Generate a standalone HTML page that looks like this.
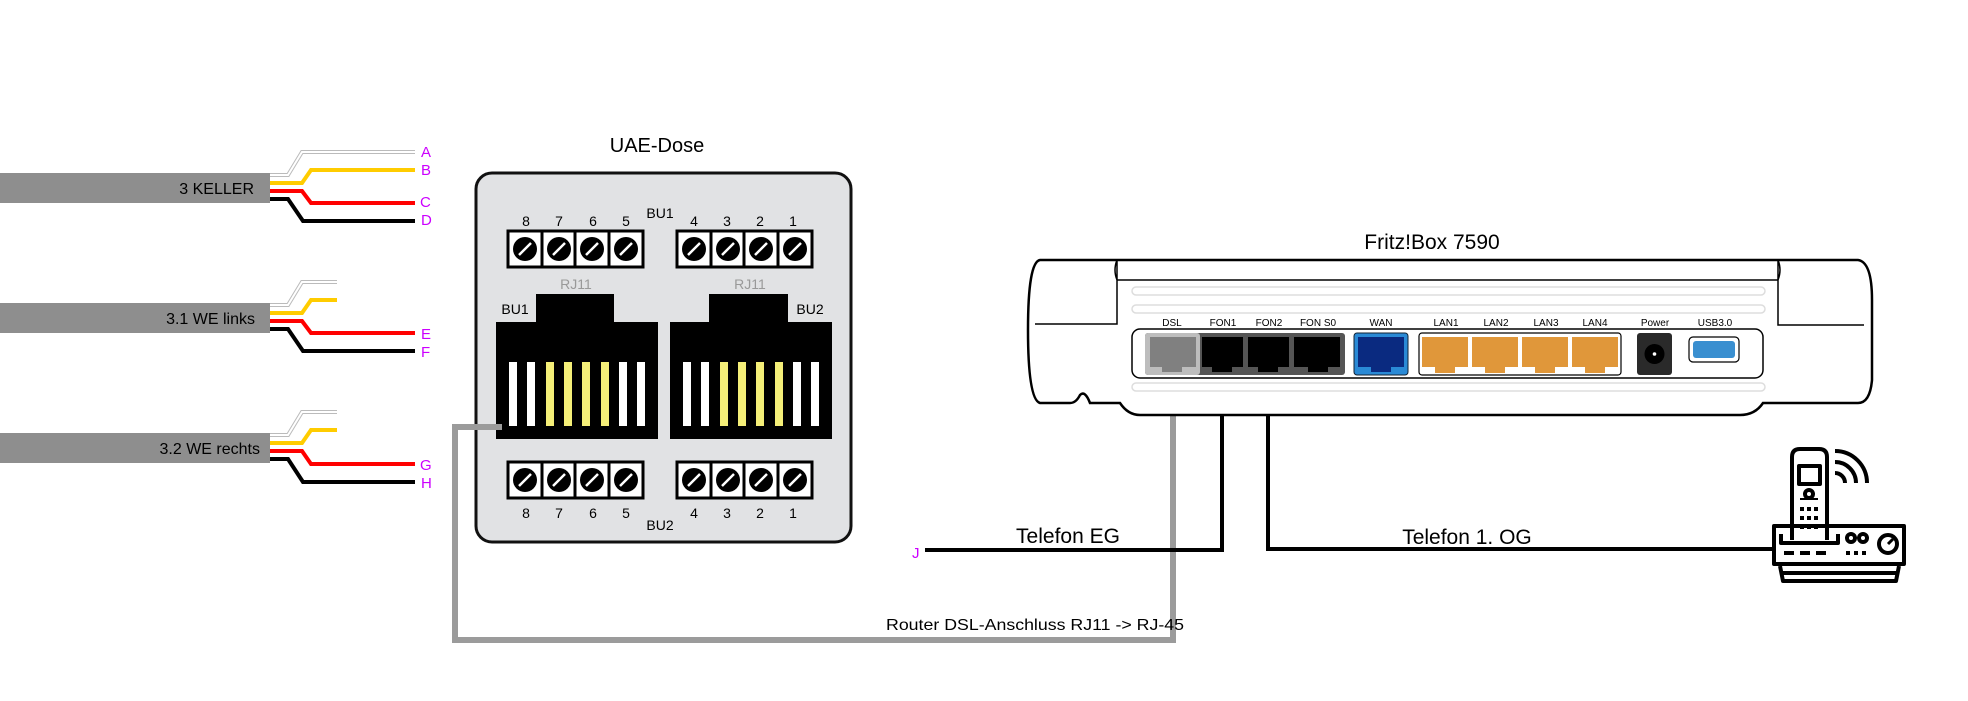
<!DOCTYPE html>
<html><head><meta charset="utf-8"><style>
html,body{margin:0;padding:0;background:#fff;}
svg{display:block;font-family:"Liberation Sans",Arial,sans-serif;}
</style></head><body>
<svg width="1968" height="701" viewBox="0 0 1968 701" xmlns="http://www.w3.org/2000/svg">
<rect width="1968" height="701" fill="#fff"/>

<rect x="0" y="173" width="270" height="30" fill="#8e8e8e"/>
<polyline points="270,175 288,175 302,152 415,152" fill="none" stroke="#bbb" stroke-width="4"/>
<polyline points="270,175 288,175 302,152 415,152" fill="none" stroke="#fff" stroke-width="2"/>
<polyline points="270,183 302,183 311,170 415,170" fill="none" stroke="#ffcc00" stroke-width="4"/>
<polyline points="270,191 302,191 311,203 415,203" fill="none" stroke="#ff0000" stroke-width="4"/>
<polyline points="270,199 288,199 303,221 415,221" fill="none" stroke="#000" stroke-width="4"/>
<text x="254" y="194" font-size="16" text-anchor="end">3 KELLER</text>

<rect x="0" y="303" width="270" height="30" fill="#8e8e8e"/>
<polyline points="270,305 288,305 302,282 337,282" fill="none" stroke="#bbb" stroke-width="4"/>
<polyline points="270,305 288,305 302,282 337,282" fill="none" stroke="#fff" stroke-width="2"/>
<polyline points="270,313 302,313 311,300 337,300" fill="none" stroke="#ffcc00" stroke-width="4"/>
<polyline points="270,321 302,321 311,333 415,333" fill="none" stroke="#ff0000" stroke-width="4"/>
<polyline points="270,329 288,329 303,351 415,351" fill="none" stroke="#000" stroke-width="4"/>
<text x="255" y="324" font-size="16" text-anchor="end">3.1 WE links</text>

<rect x="0" y="433" width="270" height="30" fill="#8e8e8e"/>
<polyline points="270,435 288,435 302,412 337,412" fill="none" stroke="#bbb" stroke-width="4"/>
<polyline points="270,435 288,435 302,412 337,412" fill="none" stroke="#fff" stroke-width="2"/>
<polyline points="270,443 302,443 311,430 337,430" fill="none" stroke="#ffcc00" stroke-width="4"/>
<polyline points="270,451 302,451 311,464 415,464" fill="none" stroke="#ff0000" stroke-width="4"/>
<polyline points="270,459 288,459 303,482 415,482" fill="none" stroke="#000" stroke-width="4"/>
<text x="260" y="454" font-size="16" text-anchor="end">3.2 WE rechts</text>

<g fill="#cc00ff" font-size="15">
<text x="421" y="157">A</text><text x="421" y="175">B</text>
<text x="420" y="207">C</text><text x="421" y="225">D</text>
<text x="421" y="339">E</text><text x="421" y="357">F</text>
<text x="420" y="470">G</text><text x="421" y="488">H</text>
<text x="912" y="558">J</text>
</g>

<text x="657" y="152" font-size="20" text-anchor="middle">UAE-Dose</text>
<rect x="476" y="173" width="375" height="369" rx="16" fill="#e1e2e4" stroke="#111" stroke-width="3"/>

<g font-size="14" text-anchor="middle">
<text x="526" y="226">8</text><text x="559" y="226">7</text><text x="593" y="226">6</text><text x="626" y="226">5</text>
<text x="694" y="226">4</text><text x="727" y="226">3</text><text x="760" y="226">2</text><text x="793" y="226">1</text>
<text x="660" y="218">BU1</text>
<text x="526" y="518">8</text><text x="559" y="518">7</text><text x="593" y="518">6</text><text x="626" y="518">5</text>
<text x="694" y="518">4</text><text x="727" y="518">3</text><text x="760" y="518">2</text><text x="793" y="518">1</text>
<text x="660" y="530">BU2</text>
<text x="515" y="314">BU1</text>
<text x="810" y="314">BU2</text>
</g>
<g font-size="14" text-anchor="middle" fill="#999">
<text x="576" y="289">RJ11</text><text x="750" y="289">RJ11</text>
</g>

<defs>
<g id="scr">
<circle cx="0" cy="0" r="12" fill="#000"/>
<line x1="-6" y1="6" x2="6" y2="-6" stroke="#fff" stroke-width="2.5"/>
</g>
<g id="blk">
<rect x="0" y="0" width="135" height="36" fill="#fff" stroke="#000" stroke-width="3"/>
<line x1="34" y1="0" x2="34" y2="36" stroke="#000" stroke-width="3"/>
<line x1="67" y1="0" x2="67" y2="36" stroke="#000" stroke-width="3"/>
<line x1="101" y1="0" x2="101" y2="36" stroke="#000" stroke-width="3"/>
<use href="#scr" x="17" y="18"/><use href="#scr" x="51" y="18"/><use href="#scr" x="84" y="18"/><use href="#scr" x="118" y="18"/>
</g>
<g id="pins">
<rect x="0" y="0" width="8" height="64" fill="#fff"/>
<rect x="18" y="0" width="8" height="64" fill="#fff"/>
<rect x="37" y="0" width="8" height="64" fill="#f5ef78"/>
<rect x="55" y="0" width="8" height="64" fill="#f5ef78"/>
<rect x="73" y="0" width="8" height="64" fill="#f5ef78"/>
<rect x="92" y="0" width="8" height="64" fill="#f5ef78"/>
<rect x="110" y="0" width="8" height="64" fill="#fff"/>
<rect x="128" y="0" width="8" height="64" fill="#fff"/>
</g>
</defs>
<use href="#blk" x="508" y="231"/><use href="#blk" x="677" y="231"/>
<use href="#blk" x="508" y="462"/><use href="#blk" x="677" y="462"/>

<rect x="536" y="294" width="78" height="29" fill="#000"/>
<rect x="496" y="322" width="162" height="117" fill="#000"/>
<use href="#pins" x="509" y="362"/>
<rect x="709" y="294" width="79" height="29" fill="#000"/>
<rect x="670" y="322" width="162" height="117" fill="#000"/>
<use href="#pins" x="683" y="362"/>

<polyline points="502,427 455,427 455,640 1173,640 1173,375" fill="none" stroke="#9b9b9b" stroke-width="6"/>
<text x="1184" y="630" font-size="16" text-anchor="end" textLength="298" lengthAdjust="spacingAndGlyphs">Router DSL-Anschluss  RJ11 -&gt; RJ-45</text>

<polyline points="925,550 1222,550 1222,375" fill="none" stroke="#000" stroke-width="4"/>
<polyline points="1268,375 1268,549 1773,549" fill="none" stroke="#000" stroke-width="4"/>
<text x="1068" y="543" font-size="21" text-anchor="middle">Telefon EG</text>
<text x="1467" y="544" font-size="21" text-anchor="middle">Telefon 1. OG</text>

<text x="1432" y="249" font-size="21" text-anchor="middle">Fritz!Box 7590</text>
<path d="M1040,260 L1117,260 L1778,260 L1858,260 Q1872,262 1872,300 L1872,380 Q1870,403 1858,403 L1763,403 Q1755,415 1740,415 L1140,415 Q1128,415 1120,403 L1090,403 Q1085,390 1080,395 Q1076,403 1070,403 L1040,403 Q1028,400 1028,330 Q1028,262 1040,260 Z" fill="#fff" stroke="#000" stroke-width="2.5"/>
<path d="M1117,260 L1117,324 L1035,324 M1778,260 L1778,325 L1864,325 M1117,280 L1778,280 M1117,260 Q1113,270 1117,280 M1778,260 Q1782,270 1778,280" fill="none" stroke="#000" stroke-width="1.5"/>
<g fill="none" stroke="#ddd" stroke-width="1.5">
<rect x="1132" y="287" width="633" height="8" rx="4"/>
<rect x="1132" y="305" width="633" height="8" rx="4"/>
<rect x="1132" y="383" width="633" height="8" rx="4"/>
</g>
<g font-size="10" text-anchor="middle">
<text x="1172" y="326">DSL</text><text x="1223" y="326">FON1</text><text x="1269" y="326">FON2</text>
<text x="1318" y="326">FON S0</text><text x="1381" y="326">WAN</text><text x="1446" y="326">LAN1</text>
<text x="1496" y="326">LAN2</text><text x="1546" y="326">LAN3</text><text x="1595" y="326">LAN4</text>
<text x="1655" y="326">Power</text><text x="1715" y="326">USB3.0</text>
</g>
<rect x="1132" y="329" width="631" height="49" rx="8" fill="#fff" stroke="#000" stroke-width="1.5"/>
<rect x="1145" y="333" width="200" height="42" rx="3" fill="#555"/>
<rect x="1145" y="333" width="55" height="42" rx="3" fill="#bdbdbd"/>
<rect x="1150" y="337" width="46" height="30" fill="#808080"/><rect x="1162" y="367" width="20" height="5" fill="#808080"/>
<rect x="1202" y="337" width="41" height="30" fill="#000"/><rect x="1212" y="367" width="20" height="5" fill="#000"/>
<rect x="1248" y="337" width="41" height="30" fill="#000"/><rect x="1258" y="367" width="20" height="5" fill="#000"/>
<rect x="1294" y="337" width="46" height="30" fill="#000"/><rect x="1308" y="367" width="20" height="5" fill="#000"/>
<rect x="1354" y="333" width="54" height="42" rx="3" fill="#2a8ad6" stroke="#123" stroke-width="1"/>
<rect x="1358" y="337" width="46" height="30" fill="#0a2a80"/><rect x="1371" y="367" width="20" height="5" fill="#0a2a80"/>
<rect x="1419" y="333" width="202" height="42" rx="3" fill="#fff" stroke="#000" stroke-width="1.2"/>
<g fill="#e0973a">
<rect x="1422" y="337" width="46" height="30"/><rect x="1435" y="367" width="20" height="6"/>
<rect x="1472" y="337" width="46" height="30"/><rect x="1485" y="367" width="20" height="6"/>
<rect x="1522" y="337" width="46" height="30"/><rect x="1535" y="367" width="20" height="6"/>
<rect x="1572" y="337" width="46" height="30"/><rect x="1585" y="367" width="20" height="6"/>
</g>
<rect x="1637" y="333" width="35" height="42" rx="3" fill="#2a2a2a"/>
<circle cx="1654.5" cy="354" r="10" fill="#000"/><circle cx="1654.5" cy="354" r="1.8" fill="#fff"/>
<rect x="1689" y="337" width="50" height="25" rx="4" fill="#fff" stroke="#000" stroke-width="1.2"/>
<rect x="1693" y="341" width="42" height="17" rx="3" fill="#3a8fd0"/>

<g fill="none" stroke="#000" stroke-width="4" stroke-linejoin="round">
<rect x="1774" y="526" width="130" height="38"/>
<path d="M1780,566 L1783,581 L1896,581 L1899,566 M1782,573 L1897,573"/>
<path d="M1792,540 L1792,457 Q1792,449 1800,449 L1819,449 Q1827,449 1827,457 L1827,540"/>
<path d="M1781,534 L1781,543 L1838,543 L1838,534"/>
<rect x="1799" y="466" width="21" height="18"/>
<circle cx="1809" cy="494" r="4"/>
<path d="M1835,451 A32,32 0 0,1 1867,483 M1835,462 A21,21 0 0,1 1856,483 M1835,473 A10,10 0 0,1 1845,483"/>
<circle cx="1851" cy="538" r="4"/><circle cx="1863" cy="538" r="4"/>
<circle cx="1888" cy="544" r="9"/>
</g>
<g fill="#000">
<rect x="1800" y="507" width="4" height="4"/><rect x="1807" y="507" width="4" height="4"/><rect x="1814" y="507" width="4" height="4"/>
<rect x="1800" y="516" width="4" height="4"/><rect x="1807" y="516" width="4" height="4"/><rect x="1814" y="516" width="4" height="4"/>
<rect x="1800" y="525" width="4" height="4"/><rect x="1807" y="525" width="4" height="4"/><rect x="1814" y="525" width="4" height="4"/>
<rect x="1800" y="498" width="18" height="2"/>
<rect x="1784" y="551" width="10" height="4"/><rect x="1800" y="551" width="10" height="4"/><rect x="1816" y="551" width="10" height="4"/>
<rect x="1846" y="551" width="4" height="4"/><rect x="1854" y="551" width="4" height="4"/><rect x="1862" y="551" width="4" height="4"/>
</g>
<line x1="1888" y1="544" x2="1893" y2="539" stroke="#000" stroke-width="3"/>
</svg>
</body></html>
